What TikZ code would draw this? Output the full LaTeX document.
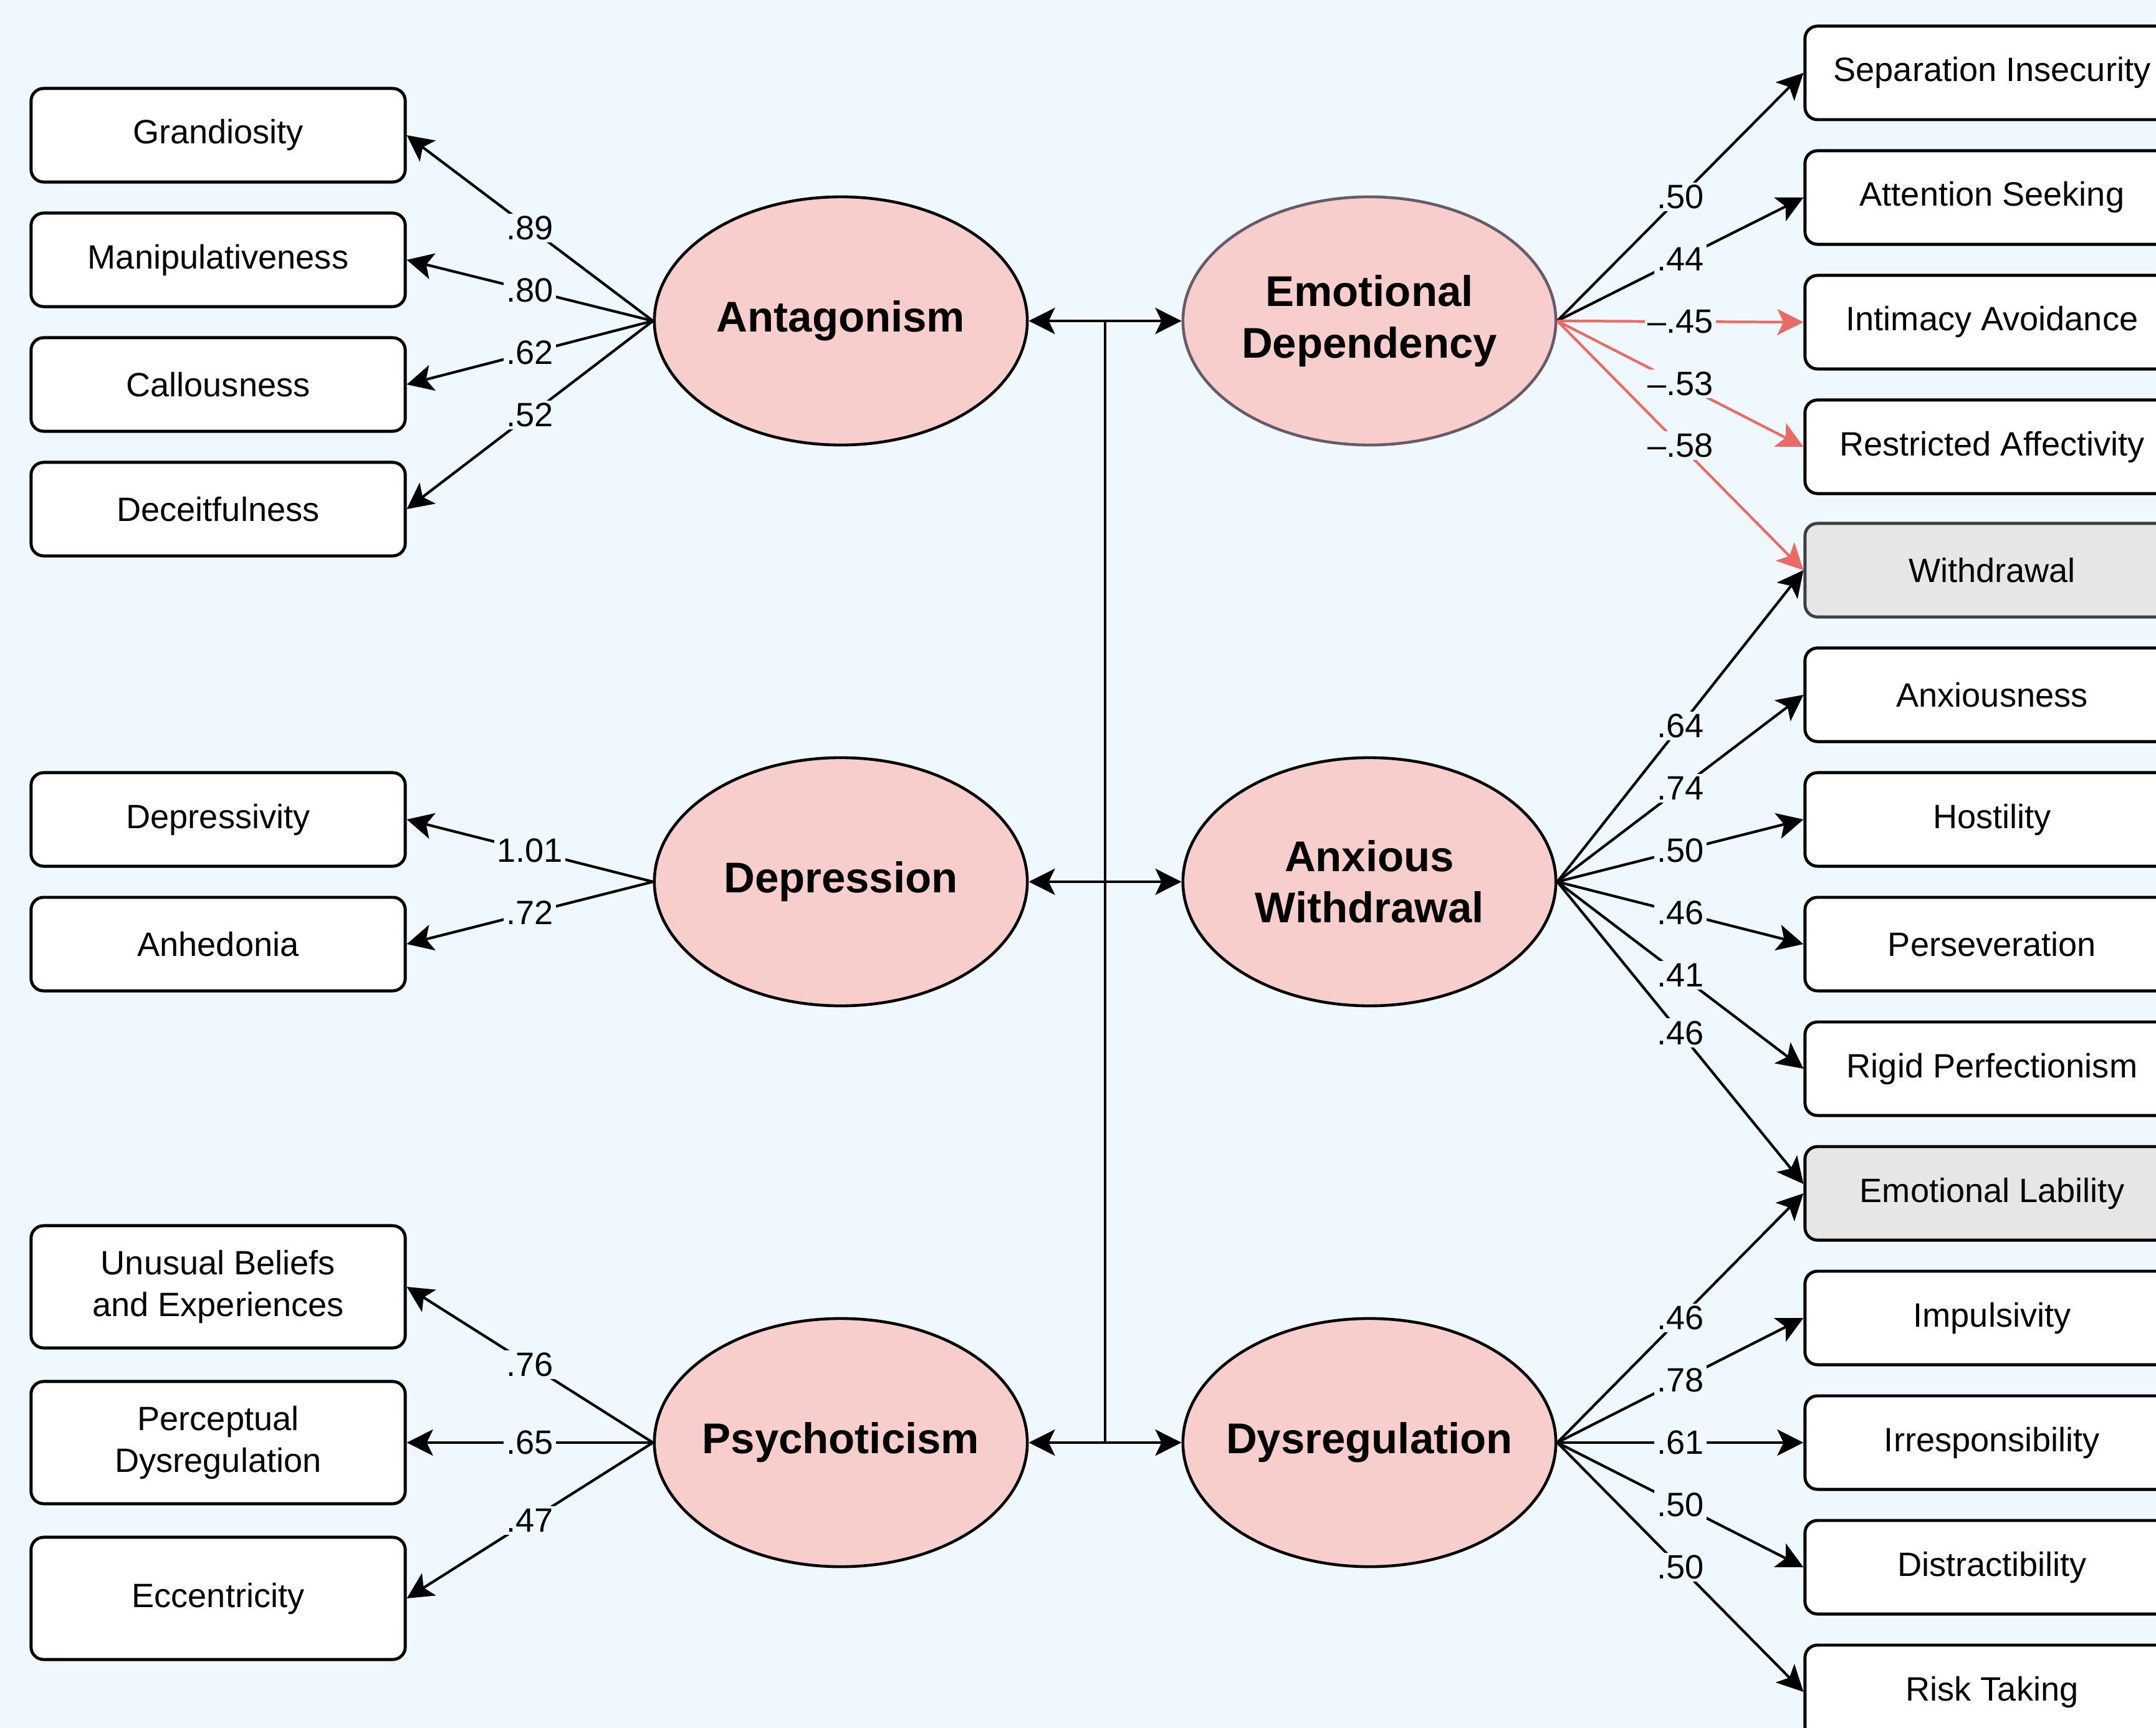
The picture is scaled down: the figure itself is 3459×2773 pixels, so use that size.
\documentclass[tikz,border=0pt]{standalone}
\usepackage{fontspec}
\setmainfont{Liberation Sans}
\usetikzlibrary{arrows.meta,shapes.geometric}
\definecolor{bg}{HTML}{F0F8FF}
\definecolor{efill}{HTML}{F8CECC}
\definecolor{redline}{HTML}{EA6B66}
\definecolor{gfill}{HTML}{E6E6E6}
\definecolor{gborder}{HTML}{3C3F44}
\definecolor{edborder}{HTML}{675A6B}
\begin{document}
\begin{tikzpicture}[x=0.01cm,y=-0.01cm,
 box/.style={draw=black, line width=1.4pt, fill=white, rounded corners=0.2cm, minimum width=6cm, minimum height=1.5cm, inner sep=0pt, align=center, font=\fontsize{15.4}{19.3}\selectfont},
 tallbox/.style={box, minimum height=1.96cm},
 graybox/.style={box, fill=gfill, draw=gborder},
 latent/.style={ellipse, draw=black, line width=1.3pt, fill=efill, minimum width=5.98cm, minimum height=3.98cm, inner sep=0pt, align=center, font=\fontsize{19.6}{23.5}\selectfont\bfseries},
 tip/.tip={Stealth[length=0.42cm,width=0.42cm,inset=0.1cm]},
 load/.style={-tip, line width=1.2pt},
 neg/.style={load, draw=redline},
 dbl/.style={tip-tip, line width=1.2pt},
 lab/.style={fill=bg, inner sep=1.2pt, font=\fontsize{15.4}{18}\selectfont, text=black},
 ]
\fill[bg] (0,0) rectangle (3459,2773);
\useasboundingbox (0,0) rectangle (3459,2773);
\clip (0,0) rectangle (3459,2773);

% left indicators
\node[box] (grand) at (350,217) {Grandiosity};
\node[box] (manip) at (350,417) {Manipulativeness};
\node[box] (call) at (350,617) {Callousness};
\node[box] (deceit) at (350,817) {Deceitfulness};
\node[box] (depv) at (350,1315) {Depressivity};
\node[box] (anhed) at (350,1515) {Anhedonia};
\node[tallbox] (unus) at (350,2065) {Unusual Beliefs\\and Experiences};
\node[tallbox] (perc) at (350,2315) {Perceptual\\Dysregulation};
\node[tallbox] (ecc) at (350,2565) {Eccentricity};

% right indicators
\node[box] (sep) at (3196,117) {Separation Insecurity};
\node[box] (att) at (3196,317) {Attention Seeking};
\node[box] (inti) at (3196,517) {Intimacy Avoidance};
\node[box] (res) at (3196,717) {Restricted Affectivity};
\node[graybox] (wd) at (3196,915) {Withdrawal};
\node[box] (anx) at (3196,1115) {Anxiousness};
\node[box] (hos) at (3196,1315) {Hostility};
\node[box] (pers) at (3196,1515) {Perseveration};
\node[box] (rig) at (3196,1715) {Rigid Perfectionism};
\node[graybox, draw=black] (el) at (3196,1915) {Emotional Lability};
\node[box] (imp) at (3196,2115) {Impulsivity};
\node[box] (irr) at (3196,2315) {Irresponsibility};
\node[box] (dis) at (3196,2515) {Distractibility};
\node[box] (risk) at (3196,2715) {Risk Taking};

% latent factors
\node[latent] (ant) at (1349,515) {\makebox[0pt]{Antagonism}};
\node[latent, draw=edborder] (emo) at (2197,515) {Emotional\\Dependency};
\node[latent] (dep) at (1349,1415) {\makebox[0pt]{Depression}};
\node[latent] (aw) at (2197,1415) {Anxious\\Withdrawal};
\node[latent] (psy) at (1349,2315) {\makebox[0pt]{Psychoticism}};
\node[latent] (dys) at (2197,2315) {\makebox[0pt]{Dysregulation}};

% correlations
\draw[dbl] (ant.east) -- coordinate[pos=0.5] (mtop) (emo.west);
\draw[dbl] (dep.east) -- (aw.west);
\draw[dbl] (psy.east) -- coordinate[pos=0.5] (mbot) (dys.west);
\draw[line width=1.2pt] (mtop) -- (mbot);

% left loadings
\draw[load] (ant.west) -- node[lab]{.89} (grand.east);
\draw[load] (ant.west) -- node[lab]{.80} (manip.east);
\draw[load] (ant.west) -- node[lab]{.62} (call.east);
\draw[load] (ant.west) -- node[lab]{.52} (deceit.east);
\draw[load] (dep.west) -- node[lab]{1.01} (depv.east);
\draw[load] (dep.west) -- node[lab]{.72} (anhed.east);
\draw[load] (psy.west) -- node[lab]{.76} (unus.east);
\draw[load] (psy.west) -- node[lab]{.65} (perc.east);
\draw[load] (psy.west) -- node[lab]{.47} (ecc.east);

% right loadings
\draw[load] (emo.east) -- node[lab]{.50} (sep.west);
\draw[load] (emo.east) -- node[lab]{.44} (att.west);
\draw[neg] (emo.east) -- node[lab]{–.45} (inti.west);
\draw[neg] (emo.east) -- node[lab]{–.53} (res.west);
\draw[neg] (emo.east) -- node[lab]{–.58} (wd.west);

\draw[load] (aw.east) -- node[lab]{.64} (wd.west);
\draw[load] (aw.east) -- node[lab]{.74} (anx.west);
\draw[load] (aw.east) -- node[lab]{.50} (hos.west);
\draw[load] (aw.east) -- node[lab]{.46} (pers.west);
\draw[load] (aw.east) -- node[lab]{.41} (rig.west);
\draw[load] (aw.east) -- node[lab]{.46} ([yshift=0.15cm]el.west);

\draw[load] (dys.east) -- node[lab]{.46} (el.west);
\draw[load] (dys.east) -- node[lab]{.78} (imp.west);
\draw[load] (dys.east) -- node[lab]{.61} (irr.west);
\draw[load] (dys.east) -- node[lab]{.50} (dis.west);
\draw[load] (dys.east) -- node[lab]{.50} (risk.west);
\end{tikzpicture}
\end{document}
